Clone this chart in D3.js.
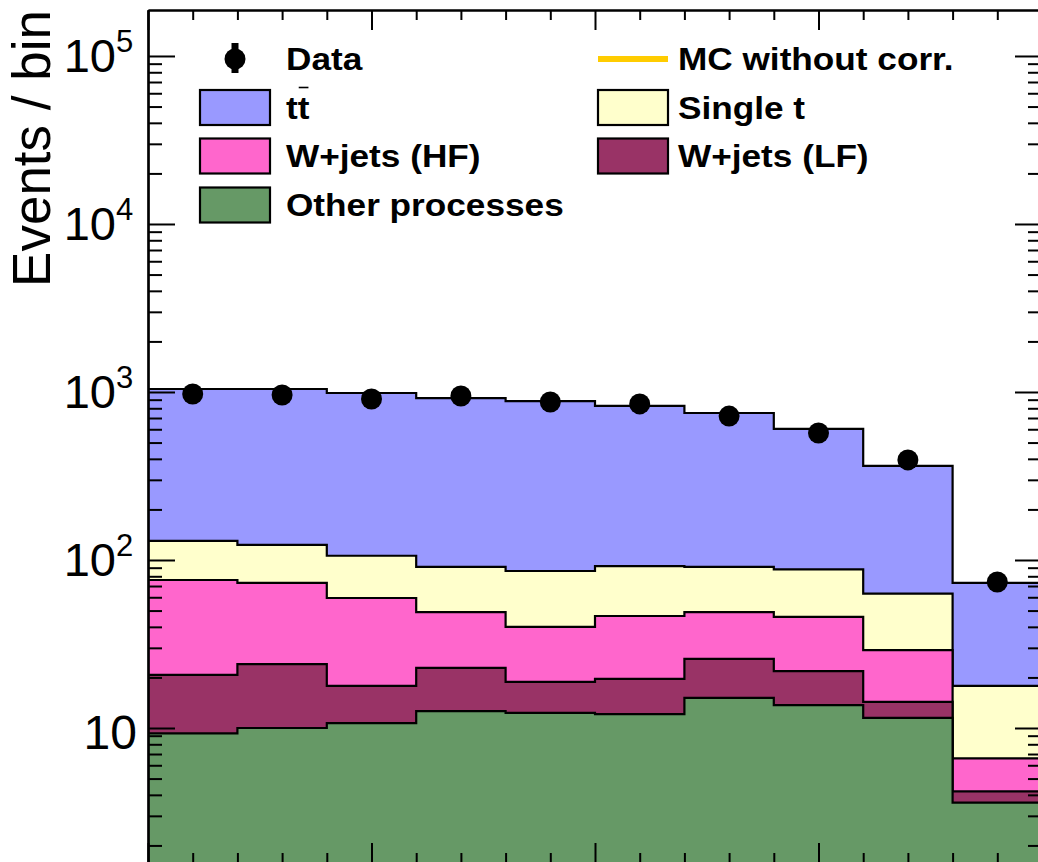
<!DOCTYPE html>
<html>
<head>
<meta charset="utf-8">
<script src="https://cdn.jsdelivr.net/npm/d3@7"></script>
<style>
  html, body { margin: 0; padding: 0; background: #fff; }
  svg { display: block; font-family: 'Liberation Sans', Arial, Helvetica, sans-serif; }
</style>
</head>
<body>
<svg id="chart" width="1038" height="862"></svg>
<script>
// bins and values
const binEdges = [0, 0.1, 0.2, 0.3, 0.4, 0.5, 0.6, 0.7, 0.8, 0.9, 1.0];
const dataCounts = [973, 960, 908, 947, 872, 849, 719, 570, 394, 74];
const ttbar     = [912, 919, 880, 829, 797, 734, 659, 515, 300, 55.2];
const singleTop = [54, 50, 46.6, 42, 46, 45.6, 42, 42.2, 33.9, 11.2];
const wjetsHF   = [55.3, 49, 41.6, 26.2, 21.2, 26.8, 23.2, 24.0, 14.8, 2.4];
const wjetsLF   = [11.4, 14.0, 7.1, 10.2, 6.5, 7.5, 10.7, 8.1, 2.8, 0.6];
const otherProc = [9.3, 10.0, 10.7, 12.6, 12.3, 12.1, 15.1, 13.7, 11.5, 3.6];

const processKeys   = ['other', 'lf', 'hf', 'single', 'tt'];  // bottom -> top
const processColors = {tt: '#9999ff', single: '#ffffcc', hf: '#ff66cc', lf: '#993366', other: '#669966'};
const legendLabels  = {tt: 'tt', single: 'Single t', hf: 'W+jets (HF)', lf: 'W+jets (LF)', other: 'Other processes', mc: 'MC without corr.', data: 'Data'};

const yMajorTicks = [10, 100, 1000, 10000, 100000];
const yTickExps   = ['', '2', '3', '4', '5'];
const yAxisTitle  = 'Events / bin';

const L = 148, T = 10, R = 1042, B = 863;
const svg = d3.select('#chart');

const x = d3.scaleLinear().domain([0, 1]).range([L, R]);
const y = d3.scaleLog().domain([1.572, 187800]).range([B, T]);

// stacked table
const table = binEdges.slice(0, -1).map(function(e, i){
  return {edge: e, tt: ttbar[i], single: singleTop[i], hf: wjetsHF[i], lf: wjetsLF[i], other: otherProc[i]};
});
const series = d3.stack().keys(processKeys)(table);

// step points incl. closing edge at x=1
function stepPts(s){
  const pts = s.map(function(d, i){ return {x: binEdges[i], v: d[1]}; });
  pts.push({x: binEdges[binEdges.length - 1], v: s[s.length - 1][1]});
  return pts;
}

const area = d3.area()
  .curve(d3.curveStepAfter)
  .x(function(d){ return x(d.x); })
  .y0(B)
  .y1(function(d){ return y(d.v); });

const line = d3.line()
  .curve(d3.curveStepAfter)
  .x(function(d){ return x(d.x); })
  .y(function(d){ return y(d.v); });

const gStack = svg.append('g');
// biggest cumulative first, so smaller ones sit on top
series.slice().reverse().forEach(function(s){
  const pts = stepPts(s);
  gStack.append('path')
    .attr('d', area(pts))
    .attr('fill', processColors[s.key]);
  gStack.append('path')
    .attr('d', line(pts))
    .attr('fill', 'none')
    .attr('stroke', '#000')
    .attr('stroke-width', 2.2);
});

// data points
const gData = svg.append('g');
dataCounts.forEach(function(n, i){
  const cx = x((binEdges[i] + binEdges[i + 1]) / 2);
  const err = Math.sqrt(n);
  gData.append('line')
    .attr('x1', cx).attr('x2', cx)
    .attr('y1', y(n + err)).attr('y2', y(n - err))
    .attr('stroke', '#000').attr('stroke-width', 2);
  gData.append('circle')
    .attr('cx', cx).attr('cy', y(n)).attr('r', 10.5)
    .attr('fill', '#000');
});

// axes / frame
const xMinor = d3.range(0, 1.0001, 0.05).filter(function(v){ return Math.abs(v*4 - Math.round(v*4)) > 1e-6; });
const xMajor = [0, 0.25, 0.5, 0.75, 1];
const yMinor = [];
[1, 10, 100, 1000, 10000, 100000].forEach(function(dec){
  d3.range(2, 10).forEach(function(k){
    const v = dec * k;
    if (v > y.domain()[0] && v < y.domain()[1]) yMinor.push(v);
  });
});

function styleAxis(g){
  g.selectAll('path').attr('stroke', '#000').attr('stroke-width', 2.2);
  g.selectAll('line').attr('stroke', '#000').attr('stroke-width', 2);
  g.selectAll('text').remove();
}

svg.append('g').attr('transform', 'translate(0,' + T + ')')
  .call(d3.axisBottom(x).tickValues(xMajor).tickSize(20).tickSizeOuter(0).tickFormat('')).call(styleAxis);
svg.append('g').attr('transform', 'translate(0,' + T + ')')
  .call(d3.axisBottom(x).tickValues(xMinor).tickSize(10).tickSizeOuter(0).tickFormat('')).call(styleAxis);
svg.append('g').attr('transform', 'translate(0,' + B + ')')
  .call(d3.axisTop(x).tickValues(xMajor).tickSize(20).tickSizeOuter(0).tickFormat('')).call(styleAxis);
svg.append('g').attr('transform', 'translate(0,' + B + ')')
  .call(d3.axisTop(x).tickValues(xMinor).tickSize(10).tickSizeOuter(0).tickFormat('')).call(styleAxis);

svg.append('g').attr('transform', 'translate(' + L + ',0)')
  .call(d3.axisRight(y).tickValues(yMajorTicks).tickSize(27).tickSizeOuter(0).tickFormat('')).call(styleAxis);
svg.append('g').attr('transform', 'translate(' + L + ',0)')
  .call(d3.axisRight(y).tickValues(yMinor).tickSize(14).tickSizeOuter(0).tickFormat('')).call(styleAxis);
svg.append('g').attr('transform', 'translate(' + R + ',0)')
  .call(d3.axisLeft(y).tickValues(yMajorTicks).tickSize(27).tickSizeOuter(0).tickFormat('')).call(styleAxis);
svg.append('g').attr('transform', 'translate(' + R + ',0)')
  .call(d3.axisLeft(y).tickValues(yMinor).tickSize(14).tickSizeOuter(0).tickFormat('')).call(styleAxis);

// y tick labels (10^n)
const gLab = svg.append('g');
yMajorTicks.forEach(function(v, i){
  const ty = y(v);
  if (yTickExps[i] === '') {
    gLab.append('text')
      .attr('x', 137).attr('y', ty + 21)
      .attr('text-anchor', 'end')
      .style('font-size', '48px')
      .text('10');
  } else {
    gLab.append('text')
      .attr('x', 116).attr('y', ty + 16)
      .attr('text-anchor', 'end')
      .style('font-size', '47px')
      .text('10');
    gLab.append('text')
      .attr('x', 116).attr('y', ty - 4)
      .style('font-size', '31px')
      .text(yTickExps[i]);
  }
});

svg.append('text')
  .attr('transform', 'translate(50,' + T + ') rotate(-90)')
  .attr('text-anchor', 'end')
  .style('font-size', '53px')
  .text(yAxisTitle);

// legend
const gLeg = svg.append('g').style('font-weight', 'bold').style('font-size', '32px');
const rowY = [59, 107.5, 156, 205];

function legText(tx, ty, s){
  return gLeg.append('text')
    .attr('transform', 'translate(' + tx + ',' + ty + ') scale(1.1,1)')
    .text(s);
}

// Data entry
gLeg.append('line').attr('x1', 235).attr('x2', 235).attr('y1', 43).attr('y2', 73)
  .attr('stroke', '#000').attr('stroke-width', 7);
gLeg.append('circle').attr('cx', 235).attr('cy', rowY[0]).attr('r', 10.5).attr('fill', '#000');
legText(286, rowY[0] + 11, legendLabels.data);

// MC without corr.
gLeg.append('line').attr('x1', 598).attr('x2', 668).attr('y1', rowY[0]).attr('y2', rowY[0])
  .attr('stroke', '#ffcc00').attr('stroke-width', 6);
legText(678, rowY[0] + 11, legendLabels.mc);

const boxEntries = [
  {key: 'tt', col: 0, row: 1}, {key: 'single', col: 1, row: 1},
  {key: 'hf', col: 0, row: 2}, {key: 'lf', col: 1, row: 2},
  {key: 'other', col: 0, row: 3}
];
const colBoxX = [200, 598], colTextX = [286, 678];
boxEntries.forEach(function(e){
  gLeg.append('rect')
    .attr('x', colBoxX[e.col]).attr('y', rowY[e.row] - 17.5)
    .attr('width', 70).attr('height', 35)
    .attr('fill', processColors[e.key])
    .attr('stroke', '#000').attr('stroke-width', 2.2);
  const t = legText(colTextX[e.col], rowY[e.row] + 11, legendLabels[e.key]);
  if (e.key === 'tt') {
    // bar over the second t (anti-top)
    const w = t.node().getComputedTextLength() * 1.1;
    gLeg.append('line')
      .attr('x1', colTextX[e.col] + w / 2 + 1).attr('x2', colTextX[e.col] + w - 1)
      .attr('y1', rowY[e.row] - 20).attr('y2', rowY[e.row] - 20)
      .attr('stroke', '#000').attr('stroke-width', 1.6);
  }
});
</script>
</body>
</html>
